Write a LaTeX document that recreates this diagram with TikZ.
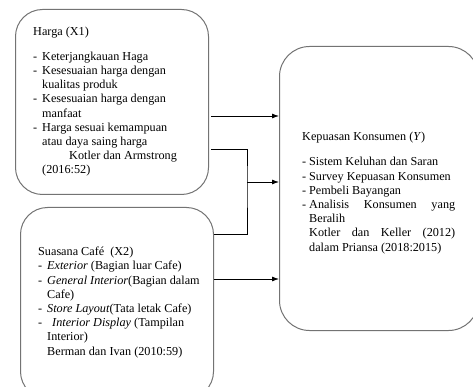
\documentclass[tikz,border=0pt]{standalone}
\usepackage{fontspec}
\setmainfont{Liberation Serif}
\usetikzlibrary{arrows.meta,positioning}
\newcommand{\itm}[2][9pt]{\makebox[#1][l]{-}#2}
\newcommand{\cont}[2][9pt]{\hspace*{#1}#2}

\begin{document}
\begin{tikzpicture}[x=1pt,y=-1pt,
    box/.style={draw=black!55,line width=1pt,rounded corners=27pt,anchor=north west,inner sep=0pt},
    txt/.style={anchor=north west,inner sep=0pt,align=left,font=\fontsize{12.2}{14.2}\selectfont},
    link/.style={line width=0.8pt},
    arr/.style={link,-{Latex[length=7pt,width=5pt]}}]
    %% Frame
    \useasboundingbox (0,0) rectangle (473,387);
    \clip (0,0) rectangle (473,387);
    %% Boxes
    \node[box,minimum width=193pt,minimum height=185pt] (harga) at (15,9) {};
    \node[box,minimum width=193pt,minimum height=191pt] (suasana) at (20,207) {};
    \node[box,rounded corners=30pt,minimum width=199pt,minimum height=284pt] (kepuasan) at (279,46) {};
    %% Texts
    \node[txt] (tharga) at ([shift={(18,18)}]harga.north west) {%
        Harga (X1)\\[10.5pt]
        \itm{Keterjangkauan Haga}\\
        \itm{Kesesuaian harga dengan}\\
        \cont{kualitas produk}\\
        \itm{Kesesuaian harga dengan}\\
        \cont{manfaat}\\
        \itm{Harga sesuai kemampuan}\\
        \cont{atau daya saing harga}\\
        \cont[36pt]{Kotler dan Armstrong}\\
        \cont{(2016:52)}};
    \node[txt] (tsuasana) at ([shift={(18,40)}]suasana.north west) {%
        Suasana Café~ (X2)\\
        \itm{\textit{Exterior} (Bagian luar Cafe)}\\
        \itm{\textit{General Interior}(Bagian dalam}\\
        \cont{Cafe)}\\
        \itm{\textit{Store Layout}(Tata letak Cafe)}\\
        \itm[14pt]{\textit{Interior Display} (Tampilan}\\
        \cont{Interior)}\\
        \cont{Berman dan Ivan (2010:59)}};
    \node[txt] (tkepuasan) at ([shift={(23,86)}]kepuasan.north west) {%
        Kepuasan Konsumen (\textit{Y})\\[11pt]
        \itm[7pt]{Sistem Keluhan dan Saran}\\
        \itm[7pt]{Survey Kepuasan Konsumen}\\
        \itm[7pt]{Pembeli Bayangan}\\
        \itm[7pt]{\makebox[146pt][s]{Analisis Konsumen yang}}\\
        \cont[7pt]{Beralih}\\
        \cont[7pt]{\makebox[146pt][s]{Kotler dan Keller (2012)}}\\
        \cont[7pt]{dalam Priansa (2018:2015)}};
    %% Connectors
    \coordinate (y1) at (0,116);
    \coordinate (y2) at (0,149);
    \coordinate (jn) at (247,182);
    \coordinate (y4) at (0,234);
    \coordinate (y5) at (0,279);
    \draw[arr,shorten <=2pt] (harga.east |- y1) -- (kepuasan.west |- y1);
    \draw[link,shorten <=2pt] (harga.east |- y2) -| (jn) |- (suasana.east |- y4);
    \draw[arr] (jn) -- (kepuasan.west |- jn);
    \draw[arr] (suasana.east |- y5) -- (kepuasan.west |- y5);
\end{tikzpicture}
\end{document}
